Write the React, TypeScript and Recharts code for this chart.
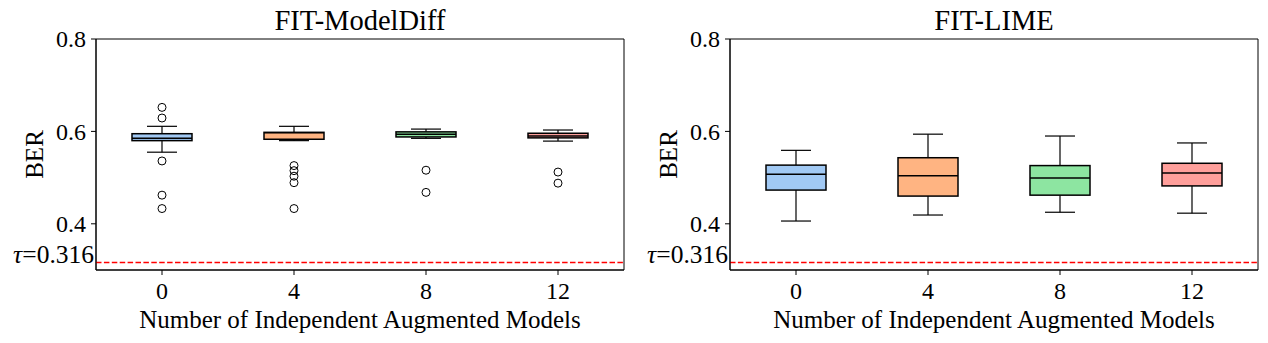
import React from "react";
import { ComposedChart, Bar, Line, XAxis, YAxis, ReferenceLine, ReferenceArea } from "recharts";

const FONT = '"Liberation Serif", "Times New Roman", serif';

const categories = ["0", "4", "8", "12"];
const boxColors = ["#a1c9f4", "#ffb482", "#8de5a1", "#ff9f9b"];
const yTicks = [0.4, 0.6, 0.8];
const yDomain: [number, number] = [0.3, 0.8];
const tau = 0.316;

// FIT-ModelDiff
const mdLow = [0.555, 0.58, 0.585, 0.579];
const mdQ1 = [0.58, 0.583, 0.588, 0.586];
const mdMedian = [0.585, 0.597, 0.594, 0.59];
const mdQ3 = [0.595, 0.598, 0.599, 0.596];
const mdHigh = [0.611, 0.611, 0.605, 0.603];
const mdOutliers = [
  [0.652, 0.629, 0.536, 0.462, 0.433],
  [0.526, 0.515, 0.503, 0.489, 0.433],
  [0.516, 0.468],
  [0.512, 0.488],
];

// FIT-LIME
const limeLow = [0.406, 0.419, 0.425, 0.423];
const limeQ1 = [0.473, 0.46, 0.462, 0.482];
const limeMedian = [0.507, 0.504, 0.499, 0.51];
const limeQ3 = [0.527, 0.543, 0.526, 0.531];
const limeHigh = [0.559, 0.594, 0.59, 0.575];
const limeOutliers: number[][] = [[], [], [], []];

type Row = {
  cat: string;
  range: [number, number];
  q1: number;
  med: number;
  q3: number;
  color: string;
  [k: string]: any;
};

function buildRows(
  low: number[],
  q1: number[],
  med: number[],
  q3: number[],
  high: number[],
  outliers: number[][]
): Row[] {
  return categories.map((cat, i) => {
    const row: Row = {
      cat,
      range: [low[i], high[i]],
      q1: q1[i],
      med: med[i],
      q3: q3[i],
      color: boxColors[i],
    };
    outliers[i].forEach((v, j) => {
      row["o" + j] = v;
    });
    return row;
  });
}

// box drawn inside the whisker range bar; inner values placed on the bar's own linear span
const BoxShape = (props: any) => {
  const { x, y, width, height, payload } = props;
  if (x == null || y == null) return <g />;
  const top = Math.min(y, y + height);
  const h = Math.abs(height);
  const [lo, hi] = payload.range;
  const pix = (v: number) => top + ((hi - v) / (hi - lo)) * h;
  const cx = x + width / 2;
  const capW = width / 2;
  const yq1 = pix(payload.q1);
  const yq3 = pix(payload.q3);
  const ymed = pix(payload.med);
  return (
    <g>
      <line x1={cx} x2={cx} y1={top} y2={yq3} stroke="#000" strokeWidth={1.2} />
      <line x1={cx} x2={cx} y1={yq1} y2={top + h} stroke="#000" strokeWidth={1.2} />
      <line x1={cx - capW / 2} x2={cx + capW / 2} y1={top} y2={top} stroke="#000" strokeWidth={1.2} />
      <line x1={cx - capW / 2} x2={cx + capW / 2} y1={top + h} y2={top + h} stroke="#000" strokeWidth={1.2} />
      <rect x={x} y={yq3} width={width} height={Math.max(yq1 - yq3, 0.5)} fill={payload.color} stroke="#000" strokeWidth={1.5} />
      <line x1={x} x2={x + width} y1={ymed} y2={ymed} stroke="#000" strokeWidth={1.5} />
    </g>
  );
};

function Panel({ title, rows, nOut }: { title: string; rows: Row[]; nOut: number }) {
  const outKeys = Array.from({ length: nOut }, (_, j) => "o" + j);
  return (
    <ComposedChart
      width={634}
      height={343}
      data={rows}
      margin={{ top: 39, right: 10, bottom: 28, left: 0 }}
    >
      <XAxis
        dataKey="cat"
        interval={0}
        height={45}
        tick={false}
        tickLine={false}
        axisLine={{ stroke: "#000", strokeWidth: 1 }}
        label={{
          value: "Number of Independent Augmented Models",
          position: "bottom",
          offset: -4.5,
          fill: "#000",
          fontSize: 25,
          fontFamily: FONT,
        }}
      />
      <YAxis
        type="number"
        domain={yDomain}
        allowDataOverflow
        ticks={yTicks}
        width={96}
        tick={false}
        tickLine={false}
        axisLine={{ stroke: "#000", strokeWidth: 1 }}
        label={(p: any) => {
          const vb = p.viewBox;
          const cy = vb.y + vb.height / 2;
          return (
            <text
              x={43}
              y={cy}
              transform={`rotate(-90, 43, ${cy})`}
              textAnchor="middle"
              fill="#000"
              fontSize={25}
              fontFamily={FONT}
            >
              BER
            </text>
          );
        }}
      />
      {/* plot frame, with the panel title above it */}
      <ReferenceArea
        y1={yDomain[0]}
        y2={yDomain[1]}
        fill="none"
        fillOpacity={0}
        stroke="#000"
        strokeWidth={1}
        ifOverflow="visible"
        label={(p: any) => {
          const vb = p.viewBox;
          return (
            <text
              x={vb.x + vb.width / 2}
              y={vb.y - 9.5}
              textAnchor="middle"
              fill="#000"
              fontSize={28.5}
              fontFamily={FONT}
            >
              {title}
            </text>
          );
        }}
      />
      {/* ticks and tick labels, placed on the axes' scales */}
      {yTicks.map((v) => (
        <ReferenceLine
          key={"yt" + v}
          y={v}
          stroke="none"
          ifOverflow="visible"
          label={(p: any) => {
            const vb = p.viewBox;
            return (
              <g>
                <line x1={vb.x - 5} x2={vb.x} y1={vb.y} y2={vb.y} stroke="#000" strokeWidth={1} />
                <text x={vb.x - 10} y={vb.y + 8.3} textAnchor="end" fill="#000" fontSize={24} fontFamily={FONT}>
                  {v.toFixed(1)}
                </text>
              </g>
            );
          }}
        />
      ))}
      {categories.map((c) => (
        <ReferenceLine
          key={"xt" + c}
          x={c}
          stroke="none"
          ifOverflow="visible"
          label={(p: any) => {
            const vb = p.viewBox;
            const base = vb.y + vb.height;
            return (
              <g>
                <line x1={vb.x} x2={vb.x} y1={base} y2={base + 5} stroke="#000" strokeWidth={1} />
                <text x={vb.x} y={base + 28.5} textAnchor="middle" fill="#000" fontSize={24} fontFamily={FONT}>
                  {c}
                </text>
              </g>
            );
          }}
        />
      ))}
      <ReferenceLine
        y={tau}
        stroke="#ff0000"
        strokeWidth={1.5}
        strokeDasharray="5.5 2.4"
        label={(p: any) => {
          const vb = p.viewBox;
          return (
            <text
              x={vb.x - 2}
              y={vb.y + 0.7}
              textAnchor="end"
              fill="#000"
              fontSize={25.5}
              fontFamily={FONT}
            >
              <tspan fontStyle="italic">τ</tspan>
              <tspan>={tau}</tspan>
            </text>
          );
        }}
      />
      <Bar dataKey="range" barSize={60} shape={BoxShape} isAnimationActive={false} />
      {outKeys.map((k) => (
        <Line
          key={k}
          dataKey={k}
          stroke="none"
          dot={{ r: 4, fill: "none", stroke: "#000", strokeWidth: 1 }}
          activeDot={false}
          isAnimationActive={false}
        />
      ))}
    </ComposedChart>
  );
}

export default function App() {
  const mdRows = buildRows(mdLow, mdQ1, mdMedian, mdQ3, mdHigh, mdOutliers);
  const limeRows = buildRows(limeLow, limeQ1, limeMedian, limeQ3, limeHigh, limeOutliers);
  return (
    <div
      style={{
        position: "absolute",
        left: 0,
        top: 0,
        width: 1268,
        height: 343,
        background: "#fff",
        display: "flex",
      }}
    >
      <Panel title="FIT-ModelDiff" rows={mdRows} nOut={5} />
      <Panel title="FIT-LIME" rows={limeRows} nOut={0} />
    </div>
  );
}
